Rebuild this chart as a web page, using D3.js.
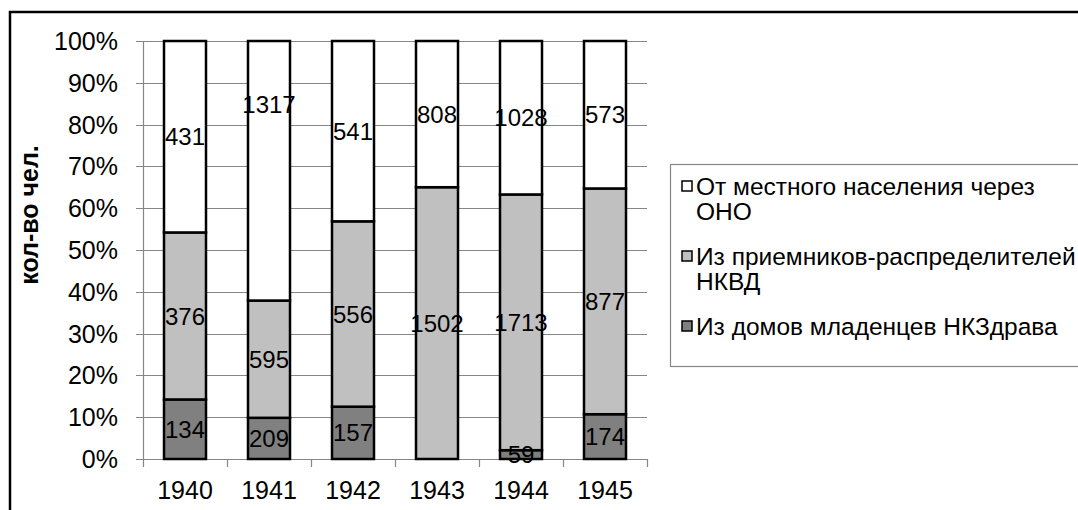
<!DOCTYPE html>
<html>
<head>
<meta charset="utf-8">
<script src="https://cdn.jsdelivr.net/npm/d3@7"></script>
<style>
  body { margin: 0; background: #fff; }
  text { font-family: Arial, "Liberation Sans", sans-serif; fill: #000; }
</style>
</head>
<body>
<svg width="1078" height="510"></svg>
<script>
// data
var years = ["1940", "1941", "1942", "1943", "1944", "1945"];
var seriesNames = ["Из домов младенцев НКЗдрава", "Из приемников-распределителей НКВД", "От местного населения через ОНО"];
var fromNKZdrav = [134, 209, 157, 0, 59, 174];
var fromNKVD = [376, 595, 556, 1502, 1713, 877];
var fromLocal = [431, 1317, 541, 808, 1028, 573];
var yTicks = [0, 0.1, 0.2, 0.3, 0.4, 0.5, 0.6, 0.7, 0.8, 0.9, 1];

// legend text, wrapped like the original
var legendLines = [
  ["От местного населения через", "ОНО"],
  ["Из приемников-распределителей", "НКВД"],
  ["Из домов младенцев НКЗдрава"]
];
var colors = ["#808080", "#c0c0c0", "#ffffff"];

var svg = d3.select("svg");

var rows = years.map(function(y, i) {
  return { year: y, s0: fromNKZdrav[i], s1: fromNKVD[i], s2: fromLocal[i] };
});
var keys = ["s0", "s1", "s2"];
var stacked = d3.stack().keys(keys).offset(d3.stackOffsetExpand)(rows);

var x = d3.scaleBand().domain(years).range([143, 647])
    .paddingInner(0.5).paddingOuter(0.25);
var y = d3.scaleLinear().domain([0, 1]).range([459, 41]);

// outer chart border
svg.append("rect")
    .attr("x", 10).attr("y", 12)
    .attr("width", 1200).attr("height", 600)
    .attr("fill", "none").attr("stroke", "#000").attr("stroke-width", 2.5);

// gridlines
svg.append("g").selectAll("line")
    .data(yTicks)
    .enter().append("line")
    .attr("x1", 136).attr("x2", 647)
    .attr("y1", function(d) { return Math.round(y(d)) + 0.5; })
    .attr("y2", function(d) { return Math.round(y(d)) + 0.5; })
    .attr("stroke", "#868686").attr("stroke-width", 1.2);

// y axis line
svg.append("line")
    .attr("x1", 143.5).attr("x2", 143.5).attr("y1", y(1)).attr("y2", y(0))
    .attr("stroke", "#868686").attr("stroke-width", 1.2);

// x ticks at the band edges
var step = x.step();
svg.append("g").selectAll("line")
    .data(d3.range(years.length + 1))
    .enter().append("line")
    .attr("x1", function(i) { return Math.round(143 + i * step) + 0.5; })
    .attr("x2", function(i) { return Math.round(143 + i * step) + 0.5; })
    .attr("y1", y(0)).attr("y2", y(0) + 8)
    .attr("stroke", "#868686").attr("stroke-width", 1.2);

// y tick labels
svg.append("g").selectAll("text")
    .data(yTicks)
    .enter().append("text")
    .attr("x", 118)
    .attr("y", function(d) { return y(d); })
    .attr("dy", "0.36em")
    .attr("text-anchor", "end")
    .style("font-size", "25px")
    .text(function(d) { return d3.format(".0%")(d); });

// x tick labels
svg.append("g").selectAll("text")
    .data(years)
    .enter().append("text")
    .attr("x", function(d) { return x(d) + x.bandwidth() / 2; })
    .attr("y", 499)
    .attr("text-anchor", "middle")
    .style("font-size", "25px")
    .text(function(d) { return d; });

// axis title
svg.append("text")
    .attr("transform", "translate(38,215) rotate(-90)")
    .attr("text-anchor", "middle")
    .style("font-size", "25px")
    .style("font-weight", "bold")
    .text("кол-во чел.");

// bar segments
var layer = svg.append("g").selectAll("g")
    .data(stacked)
    .enter().append("g")
    .attr("fill", function(d, i) { return colors[i]; });

layer.selectAll("rect")
    .data(function(d) { return d; })
    .enter().append("rect")
    .attr("x", function(d) { return x(d.data.year); })
    .attr("y", function(d) { return y(d[1]); })
    .attr("width", x.bandwidth())
    .attr("height", function(d) { return y(d[0]) - y(d[1]); })
    .attr("stroke", "#000")
    .attr("stroke-width", 2.5);

// value labels (the 1941 top label was dragged up in the original)
var movedLabel = { "s2-1941": 0.848 };
var labels = [];
stacked.forEach(function(s) {
  s.forEach(function(d) {
    var v = d.data[s.key];
    if (!v) return;
    var id = s.key + "-" + d.data.year;
    var pos = movedLabel[id] !== undefined ? movedLabel[id] : (d[0] + d[1]) / 2;
    labels.push({ v: v, year: d.data.year, pos: pos });
  });
});

svg.append("g").selectAll("text")
    .data(labels)
    .enter().append("text")
    .attr("x", function(d) { return x(d.year) + x.bandwidth() / 2; })
    .attr("y", function(d) { return y(d.pos); })
    .attr("dy", "0.36em")
    .attr("text-anchor", "middle")
    .style("font-size", "24px")
    .text(function(d) { return d.v; });

// legend
var legend = svg.append("g");
legend.append("rect")
    .attr("x", 670.5).attr("y", 164.5)
    .attr("width", 500).attr("height", 202)
    .attr("fill", "#fff").attr("stroke", "#868686").attr("stroke-width", 1.2);

var legendTop = [195, 265, 335];
var legendColors = [colors[2], colors[1], colors[0]];
legendLines.forEach(function(lines, i) {
  legend.append("rect")
      .attr("x", 682).attr("y", legendTop[i] - 14)
      .attr("width", 10).attr("height", 10)
      .attr("fill", legendColors[i])
      .attr("stroke", "#000").attr("stroke-width", 1.5);
  legend.append("text")
      .attr("x", 696).attr("y", legendTop[i])
      .style("font-size", "24.5px")
      .selectAll("tspan")
      .data(lines)
      .enter().append("tspan")
      .attr("x", 696)
      .attr("dy", function(d, j) { return j ? 25 : 0; })
      .text(function(d) { return d; });
});
</script>
</body>
</html>
